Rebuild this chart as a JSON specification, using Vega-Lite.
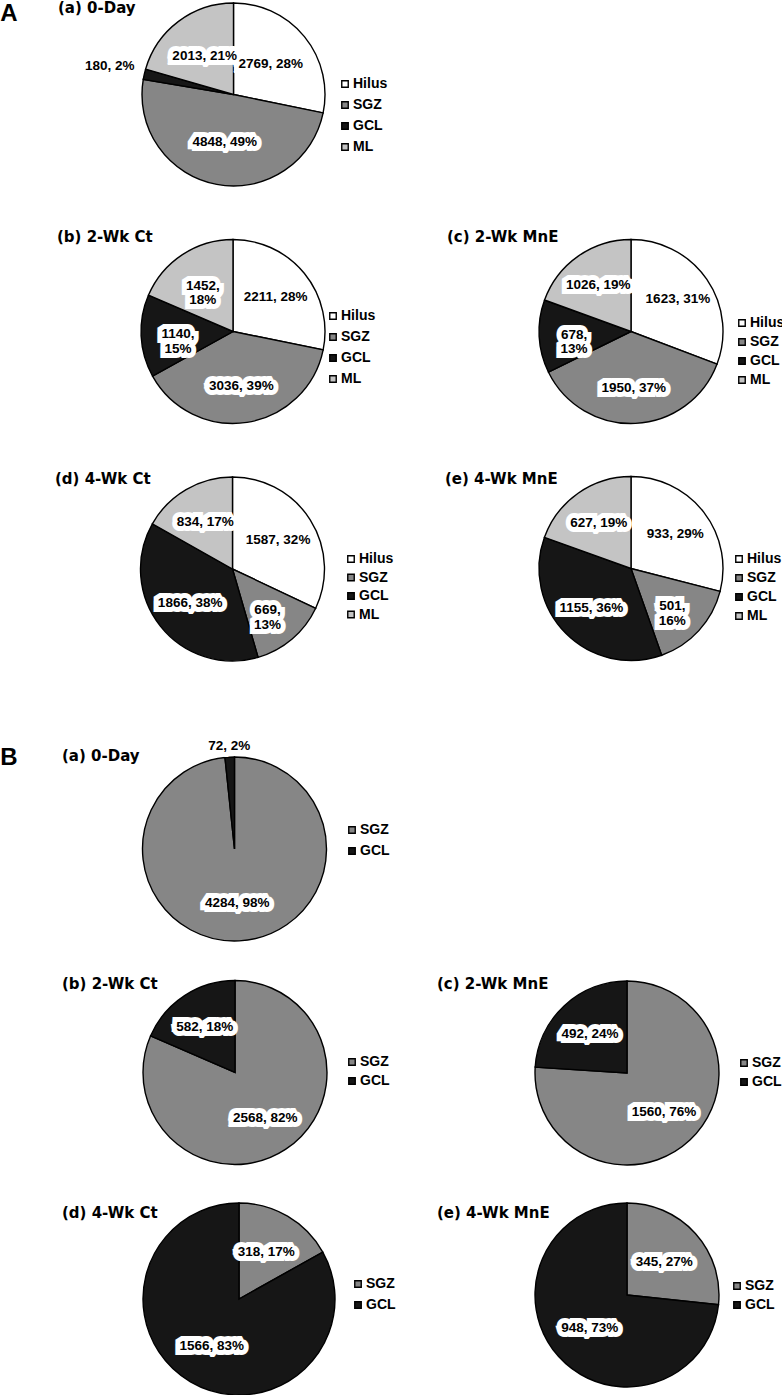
{
  "$schema": "https://vega.github.io/schema/vega-lite/v6.json",
  "padding": 0,
  "background": "#ffffff",
  "columns": 2,
  "align": "each",
  "bounds": "flush",
  "spacing": {"row": 0, "column": 2},
  "resolve": {"scale": {"color": "independent", "theta": "independent"}, "legend": {"color": "independent"}},
  "config": {
    "view": {"stroke": null},
    "title": {"anchor": "start", "frame": "group", "font": "DejaVu Sans", "fontSize": 15, "fontWeight": "bold", "color": "#000000", "baseline": "alphabetic"},
    "legend": {"symbolType": "square", "symbolSize": 42, "symbolStrokeColor": "#000000", "symbolStrokeWidth": 1, "labelFont": "Liberation Sans", "labelFontSize": 14, "labelFontWeight": "bold", "labelColor": "#000000", "labelOffset": 1, "padding": 0},
    "text": {"font": "Liberation Sans", "fontSize": 13.5, "fontWeight": "bold"},
    "arc": {"stroke": "#000000", "strokeWidth": 1.4}
  },
  "datasets": {
    "Aa": [
      {"region": "Hilus", "count": 2769, "pct": 28, "label": "2769, 28%"},
      {"region": "SGZ", "count": 4848, "pct": 49, "label": "4848, 49%"},
      {"region": "GCL", "count": 180, "pct": 2, "label": "180, 2%"},
      {"region": "ML", "count": 2013, "pct": 21, "label": "2013, 21%"}
    ],
    "Ab": [
      {"region": "Hilus", "count": 2211, "pct": 28, "label": "2211, 28%"},
      {"region": "SGZ", "count": 3036, "pct": 39, "label": "3036, 39%"},
      {"region": "GCL", "count": 1140, "pct": 15, "label": "1140,\n15%"},
      {"region": "ML", "count": 1452, "pct": 18, "label": "1452,\n18%"}
    ],
    "Ac": [
      {"region": "Hilus", "count": 1623, "pct": 31, "label": "1623, 31%"},
      {"region": "SGZ", "count": 1950, "pct": 37, "label": "1950, 37%"},
      {"region": "GCL", "count": 678, "pct": 13, "label": "678,\n13%"},
      {"region": "ML", "count": 1026, "pct": 19, "label": "1026, 19%"}
    ],
    "Ad": [
      {"region": "Hilus", "count": 1587, "pct": 32, "label": "1587, 32%"},
      {"region": "SGZ", "count": 669, "pct": 13, "label": "669,\n13%"},
      {"region": "GCL", "count": 1866, "pct": 38, "label": "1866, 38%"},
      {"region": "ML", "count": 834, "pct": 17, "label": "834, 17%"}
    ],
    "Ae": [
      {"region": "Hilus", "count": 933, "pct": 29, "label": "933, 29%"},
      {"region": "SGZ", "count": 501, "pct": 16, "label": "501,\n16%"},
      {"region": "GCL", "count": 1155, "pct": 36, "label": "1155, 36%"},
      {"region": "ML", "count": 627, "pct": 19, "label": "627, 19%"}
    ],
    "Ba": [
      {"region": "SGZ", "count": 4284, "pct": 98, "label": "4284, 98%"},
      {"region": "GCL", "count": 72, "pct": 2, "label": "72, 2%"}
    ],
    "Bb": [
      {"region": "SGZ", "count": 2568, "pct": 82, "label": "2568, 82%"},
      {"region": "GCL", "count": 582, "pct": 18, "label": "582, 18%"}
    ],
    "Bc": [
      {"region": "SGZ", "count": 1560, "pct": 76, "label": "1560, 76%"},
      {"region": "GCL", "count": 492, "pct": 24, "label": "492, 24%"}
    ],
    "Bd": [
      {"region": "SGZ", "count": 318, "pct": 17, "label": "318, 17%"},
      {"region": "GCL", "count": 1566, "pct": 83, "label": "1566, 83%"}
    ],
    "Be": [
      {"region": "SGZ", "count": 345, "pct": 27, "label": "345, 27%"},
      {"region": "GCL", "count": 948, "pct": 73, "label": "948, 73%"}
    ]
  },
  "concat": [
    {
      "width": 18, "height": 2,
      "data": {"values": [{"panel": "A"}]},
      "mark": {"type": "text", "baseline": "top", "fontSize": 24, "fontWeight": "bold", "font": "Liberation Sans"},
      "encoding": {"text": {"field": "panel", "type": "nominal"}}
    },
    {"width": 1, "height": 2, "data": {"values": []}, "mark": "point"},

    {
      "width": 467, "height": 183,
      "title": {"text": "(a) 0-Day", "dx": 58, "offset": -16},
      "data": {"name": "Aa"},
      "transform": [{"window": [{"op": "row_number", "as": "k"}]}],
      "encoding": {"theta": {"field": "count", "type": "quantitative", "stack": true}, "order": {"field": "k", "type": "quantitative"}},
      "layer": [
        {"mark": {"type": "arc", "radius": 91.5},
         "encoding": {"color": {"field": "region", "type": "nominal", "scale": {"domain": ["Hilus", "SGZ", "GCL", "ML"], "range": ["#ffffff", "#868686", "#161616", "#c4c4c4"]}, "legend": {"orient": "none", "legendX": 338, "legendY": 74, "title": null, "rowPadding": 7}}}},
        {"mark": {"type": "text", "radius": {"expr": "datum.pct < 5 ? 127 : 48"}, "fill": "#ffffff", "stroke": "#ffffff", "strokeWidth": 10, "strokeJoin": "miter", "strokeMiterLimit": 2},
         "encoding": {"text": {"field": "label", "type": "nominal"}}},
        {"mark": {"type": "text", "radius": {"expr": "datum.pct < 5 ? 127 : 48"}, "fill": "#000000"},
         "encoding": {"text": {"field": "label", "type": "nominal"}}}
      ]
    },
    {"width": 1, "height": 224, "data": {"values": []}, "mark": "point"},

    {
      "width": 466, "height": 209,
      "title": {"text": "(b) 2-Wk Ct", "dx": 57, "offset": -17.5},
      "data": {"name": "Ab"},
      "transform": [{"window": [{"op": "row_number", "as": "k"}]}],
      "encoding": {"theta": {"field": "count", "type": "quantitative", "stack": true}, "order": {"field": "k", "type": "quantitative"}},
      "layer": [
        {"mark": {"type": "arc", "radius": 92},
         "encoding": {"color": {"field": "region", "type": "nominal", "scale": {"domain": ["Hilus", "SGZ", "GCL", "ML"], "range": ["#ffffff", "#868686", "#161616", "#c4c4c4"]}, "legend": {"orient": "none", "legendX": 326, "legendY": 82, "title": null, "rowPadding": 7}}}},
        {"mark": {"type": "text", "radius": 55, "fill": "#ffffff", "stroke": "#ffffff", "strokeWidth": 10, "strokeJoin": "miter", "strokeMiterLimit": 2, "lineBreak": "\n", "lineHeight": 14.5},
         "encoding": {"text": {"field": "label", "type": "nominal"}}},
        {"mark": {"type": "text", "radius": 55, "fill": "#000000", "lineBreak": "\n", "lineHeight": 14.5},
         "encoding": {"text": {"field": "label", "type": "nominal"}}}
      ]
    },
    {
      "width": 302, "height": 209,
      "title": {"text": "(c) 2-Wk MnE", "dx": -33, "offset": -17.5},
      "data": {"name": "Ac"},
      "transform": [{"window": [{"op": "row_number", "as": "k"}]}],
      "encoding": {"theta": {"field": "count", "type": "quantitative", "stack": true}, "order": {"field": "k", "type": "quantitative"}},
      "layer": [
        {"mark": {"type": "arc", "radius": 92},
         "encoding": {"color": {"field": "region", "type": "nominal", "scale": {"domain": ["Hilus", "SGZ", "GCL", "ML"], "range": ["#ffffff", "#868686", "#161616", "#c4c4c4"]}, "legend": {"orient": "none", "legendX": 255, "legendY": 89, "title": null, "rowPadding": 5}}}},
        {"mark": {"type": "text", "radius": 57, "fill": "#ffffff", "stroke": "#ffffff", "strokeWidth": 10, "strokeJoin": "miter", "strokeMiterLimit": 2, "lineBreak": "\n", "lineHeight": 14.5},
         "encoding": {"text": {"field": "label", "type": "nominal"}}},
        {"mark": {"type": "text", "radius": 57, "fill": "#000000", "lineBreak": "\n", "lineHeight": 14.5},
         "encoding": {"text": {"field": "label", "type": "nominal"}}}
      ]
    },

    {
      "width": 465, "height": 266,
      "title": {"text": "(d) 4-Wk Ct", "dx": 55, "offset": -51},
      "data": {"name": "Ad"},
      "transform": [{"window": [{"op": "row_number", "as": "k"}]}],
      "encoding": {"theta": {"field": "count", "type": "quantitative", "stack": true}, "order": {"field": "k", "type": "quantitative"}},
      "layer": [
        {"mark": {"type": "arc", "radius": 92},
         "encoding": {"color": {"field": "region", "type": "nominal", "scale": {"domain": ["Hilus", "SGZ", "GCL", "ML"], "range": ["#ffffff", "#868686", "#161616", "#c4c4c4"]}, "legend": {"orient": "none", "legendX": 344, "legendY": 116, "title": null, "rowPadding": 4.5}}}},
        {"mark": {"type": "text", "radius": 54, "fill": "#ffffff", "stroke": "#ffffff", "strokeWidth": 10, "strokeJoin": "miter", "strokeMiterLimit": 2, "lineBreak": "\n", "lineHeight": 14.5},
         "encoding": {"text": {"field": "label", "type": "nominal"}}},
        {"mark": {"type": "text", "radius": 54, "fill": "#000000", "lineBreak": "\n", "lineHeight": 14.5},
         "encoding": {"text": {"field": "label", "type": "nominal"}}}
      ]
    },
    {
      "width": 302, "height": 265,
      "title": {"text": "(e) 4-Wk MnE", "dx": -35, "offset": -50.5},
      "data": {"name": "Ae"},
      "transform": [{"window": [{"op": "row_number", "as": "k"}]}],
      "encoding": {"theta": {"field": "count", "type": "quantitative", "stack": true}, "order": {"field": "k", "type": "quantitative"}},
      "layer": [
        {"mark": {"type": "arc", "radius": 92},
         "encoding": {"color": {"field": "region", "type": "nominal", "scale": {"domain": ["Hilus", "SGZ", "GCL", "ML"], "range": ["#ffffff", "#868686", "#161616", "#c4c4c4"]}, "legend": {"orient": "none", "legendX": 252, "legendY": 116, "title": null, "rowPadding": 5}}}},
        {"mark": {"type": "text", "radius": 56, "fill": "#ffffff", "stroke": "#ffffff", "strokeWidth": 10, "strokeJoin": "miter", "strokeMiterLimit": 2, "lineBreak": "\n", "lineHeight": 14.5},
         "encoding": {"text": {"field": "label", "type": "nominal"}}},
        {"mark": {"type": "text", "radius": 56, "fill": "#000000", "lineBreak": "\n", "lineHeight": 14.5},
         "encoding": {"text": {"field": "label", "type": "nominal"}}}
      ]
    },

    {
      "width": 18, "height": 88,
      "data": {"values": [{"panel": "B"}]},
      "mark": {"type": "text", "baseline": "top", "fontSize": 24, "fontWeight": "bold", "font": "Liberation Sans"},
      "encoding": {"text": {"field": "panel", "type": "nominal"}}
    },
    {"width": 1, "height": 1, "data": {"values": []}, "mark": "point"},

    {
      "width": 469, "height": 118,
      "title": {"text": "(a) 0-Day", "orient": "bottom", "dx": 62, "offset": -194.6},
      "data": {"name": "Ba"},
      "transform": [{"window": [{"op": "row_number", "as": "k"}]}],
      "encoding": {"theta": {"field": "count", "type": "quantitative", "stack": true}, "order": {"field": "k", "type": "quantitative"}},
      "layer": [
        {"mark": {"type": "arc", "radius": 92},
         "encoding": {"color": {"field": "region", "type": "nominal", "scale": {"domain": ["SGZ", "GCL"], "range": ["#868686", "#161616"]}, "legend": {"orient": "none", "legendX": 345, "legendY": 33, "title": null, "rowPadding": 7}}}},
        {"mark": {"type": "text", "radius": {"expr": "datum.pct < 5 ? 103 : 54"}, "fill": "#ffffff", "stroke": "#ffffff", "strokeWidth": 10, "strokeJoin": "miter", "strokeMiterLimit": 2},
         "encoding": {"text": {"field": "label", "type": "nominal"}}},
        {"mark": {"type": "text", "radius": {"expr": "datum.pct < 5 ? 103 : 54"}, "fill": "#000000"},
         "encoding": {"text": {"field": "label", "type": "nominal"}}}
      ]
    },
    {"width": 1, "height": 154, "data": {"values": []}, "mark": "point"},

    {
      "width": 470, "height": 257,
      "title": {"text": "(b) 2-Wk Ct", "dx": 62, "offset": -48},
      "data": {"name": "Bb"},
      "transform": [{"window": [{"op": "row_number", "as": "k"}]}],
      "encoding": {"theta": {"field": "count", "type": "quantitative", "stack": true}, "order": {"field": "k", "type": "quantitative"}},
      "layer": [
        {"mark": {"type": "arc", "radius": 92},
         "encoding": {"color": {"field": "region", "type": "nominal", "scale": {"domain": ["SGZ", "GCL"], "range": ["#868686", "#161616"]}, "legend": {"orient": "none", "legendX": 345, "legendY": 111, "title": null, "rowPadding": 5}}}},
        {"mark": {"type": "text", "radius": 55, "fill": "#ffffff", "stroke": "#ffffff", "strokeWidth": 10, "strokeJoin": "miter", "strokeMiterLimit": 2},
         "encoding": {"text": {"field": "label", "type": "nominal"}}},
        {"mark": {"type": "text", "radius": 55, "fill": "#000000"},
         "encoding": {"text": {"field": "label", "type": "nominal"}}}
      ]
    },
    {
      "width": 294, "height": 258,
      "title": {"text": "(c) 2-Wk MnE", "dx": -43, "offset": -48},
      "data": {"name": "Bc"},
      "transform": [{"window": [{"op": "row_number", "as": "k"}]}],
      "encoding": {"theta": {"field": "count", "type": "quantitative", "stack": true}, "order": {"field": "k", "type": "quantitative"}},
      "layer": [
        {"mark": {"type": "arc", "radius": 92},
         "encoding": {"color": {"field": "region", "type": "nominal", "scale": {"domain": ["SGZ", "GCL"], "range": ["#868686", "#161616"]}, "legend": {"orient": "none", "legendX": 257, "legendY": 112, "title": null, "rowPadding": 5}}}},
        {"mark": {"type": "text", "radius": 54, "fill": "#ffffff", "stroke": "#ffffff", "strokeWidth": 10, "strokeJoin": "miter", "strokeMiterLimit": 2},
         "encoding": {"text": {"field": "label", "type": "nominal"}}},
        {"mark": {"type": "text", "radius": 54, "fill": "#000000"},
         "encoding": {"text": {"field": "label", "type": "nominal"}}}
      ]
    },

    {
      "width": 478, "height": 194,
      "title": {"text": "(d) 4-Wk Ct", "dx": 62, "offset": -21},
      "data": {"name": "Bd"},
      "transform": [{"window": [{"op": "row_number", "as": "k"}]}],
      "encoding": {"theta": {"field": "count", "type": "quantitative", "stack": true}, "order": {"field": "k", "type": "quantitative"}},
      "layer": [
        {"mark": {"type": "arc", "radius": 96},
         "encoding": {"color": {"field": "region", "type": "nominal", "scale": {"domain": ["SGZ", "GCL"], "range": ["#868686", "#161616"]}, "legend": {"orient": "none", "legendX": 351, "legendY": 75, "title": null, "rowPadding": 7}}}},
        {"mark": {"type": "text", "radius": 54, "fill": "#ffffff", "stroke": "#ffffff", "strokeWidth": 10, "strokeJoin": "miter", "strokeMiterLimit": 2},
         "encoding": {"text": {"field": "label", "type": "nominal"}}},
        {"mark": {"type": "text", "radius": 54, "fill": "#000000"},
         "encoding": {"text": {"field": "label", "type": "nominal"}}}
      ]
    },
    {
      "width": 294, "height": 186,
      "title": {"text": "(e) 4-Wk MnE", "dx": -43, "offset": -21},
      "data": {"name": "Be"},
      "transform": [{"window": [{"op": "row_number", "as": "k"}]}],
      "encoding": {"theta": {"field": "count", "type": "quantitative", "stack": true}, "order": {"field": "k", "type": "quantitative"}},
      "layer": [
        {"mark": {"type": "arc", "radius": 92},
         "encoding": {"color": {"field": "region", "type": "nominal", "scale": {"domain": ["SGZ", "GCL"], "range": ["#868686", "#161616"]}, "legend": {"orient": "none", "legendX": 250, "legendY": 77, "title": null, "rowPadding": 5}}}},
        {"mark": {"type": "text", "radius": 50, "fill": "#ffffff", "stroke": "#ffffff", "strokeWidth": 10, "strokeJoin": "miter", "strokeMiterLimit": 2},
         "encoding": {"text": {"field": "label", "type": "nominal"}}},
        {"mark": {"type": "text", "radius": 50, "fill": "#000000"},
         "encoding": {"text": {"field": "label", "type": "nominal"}}}
      ]
    }
  ]
}
